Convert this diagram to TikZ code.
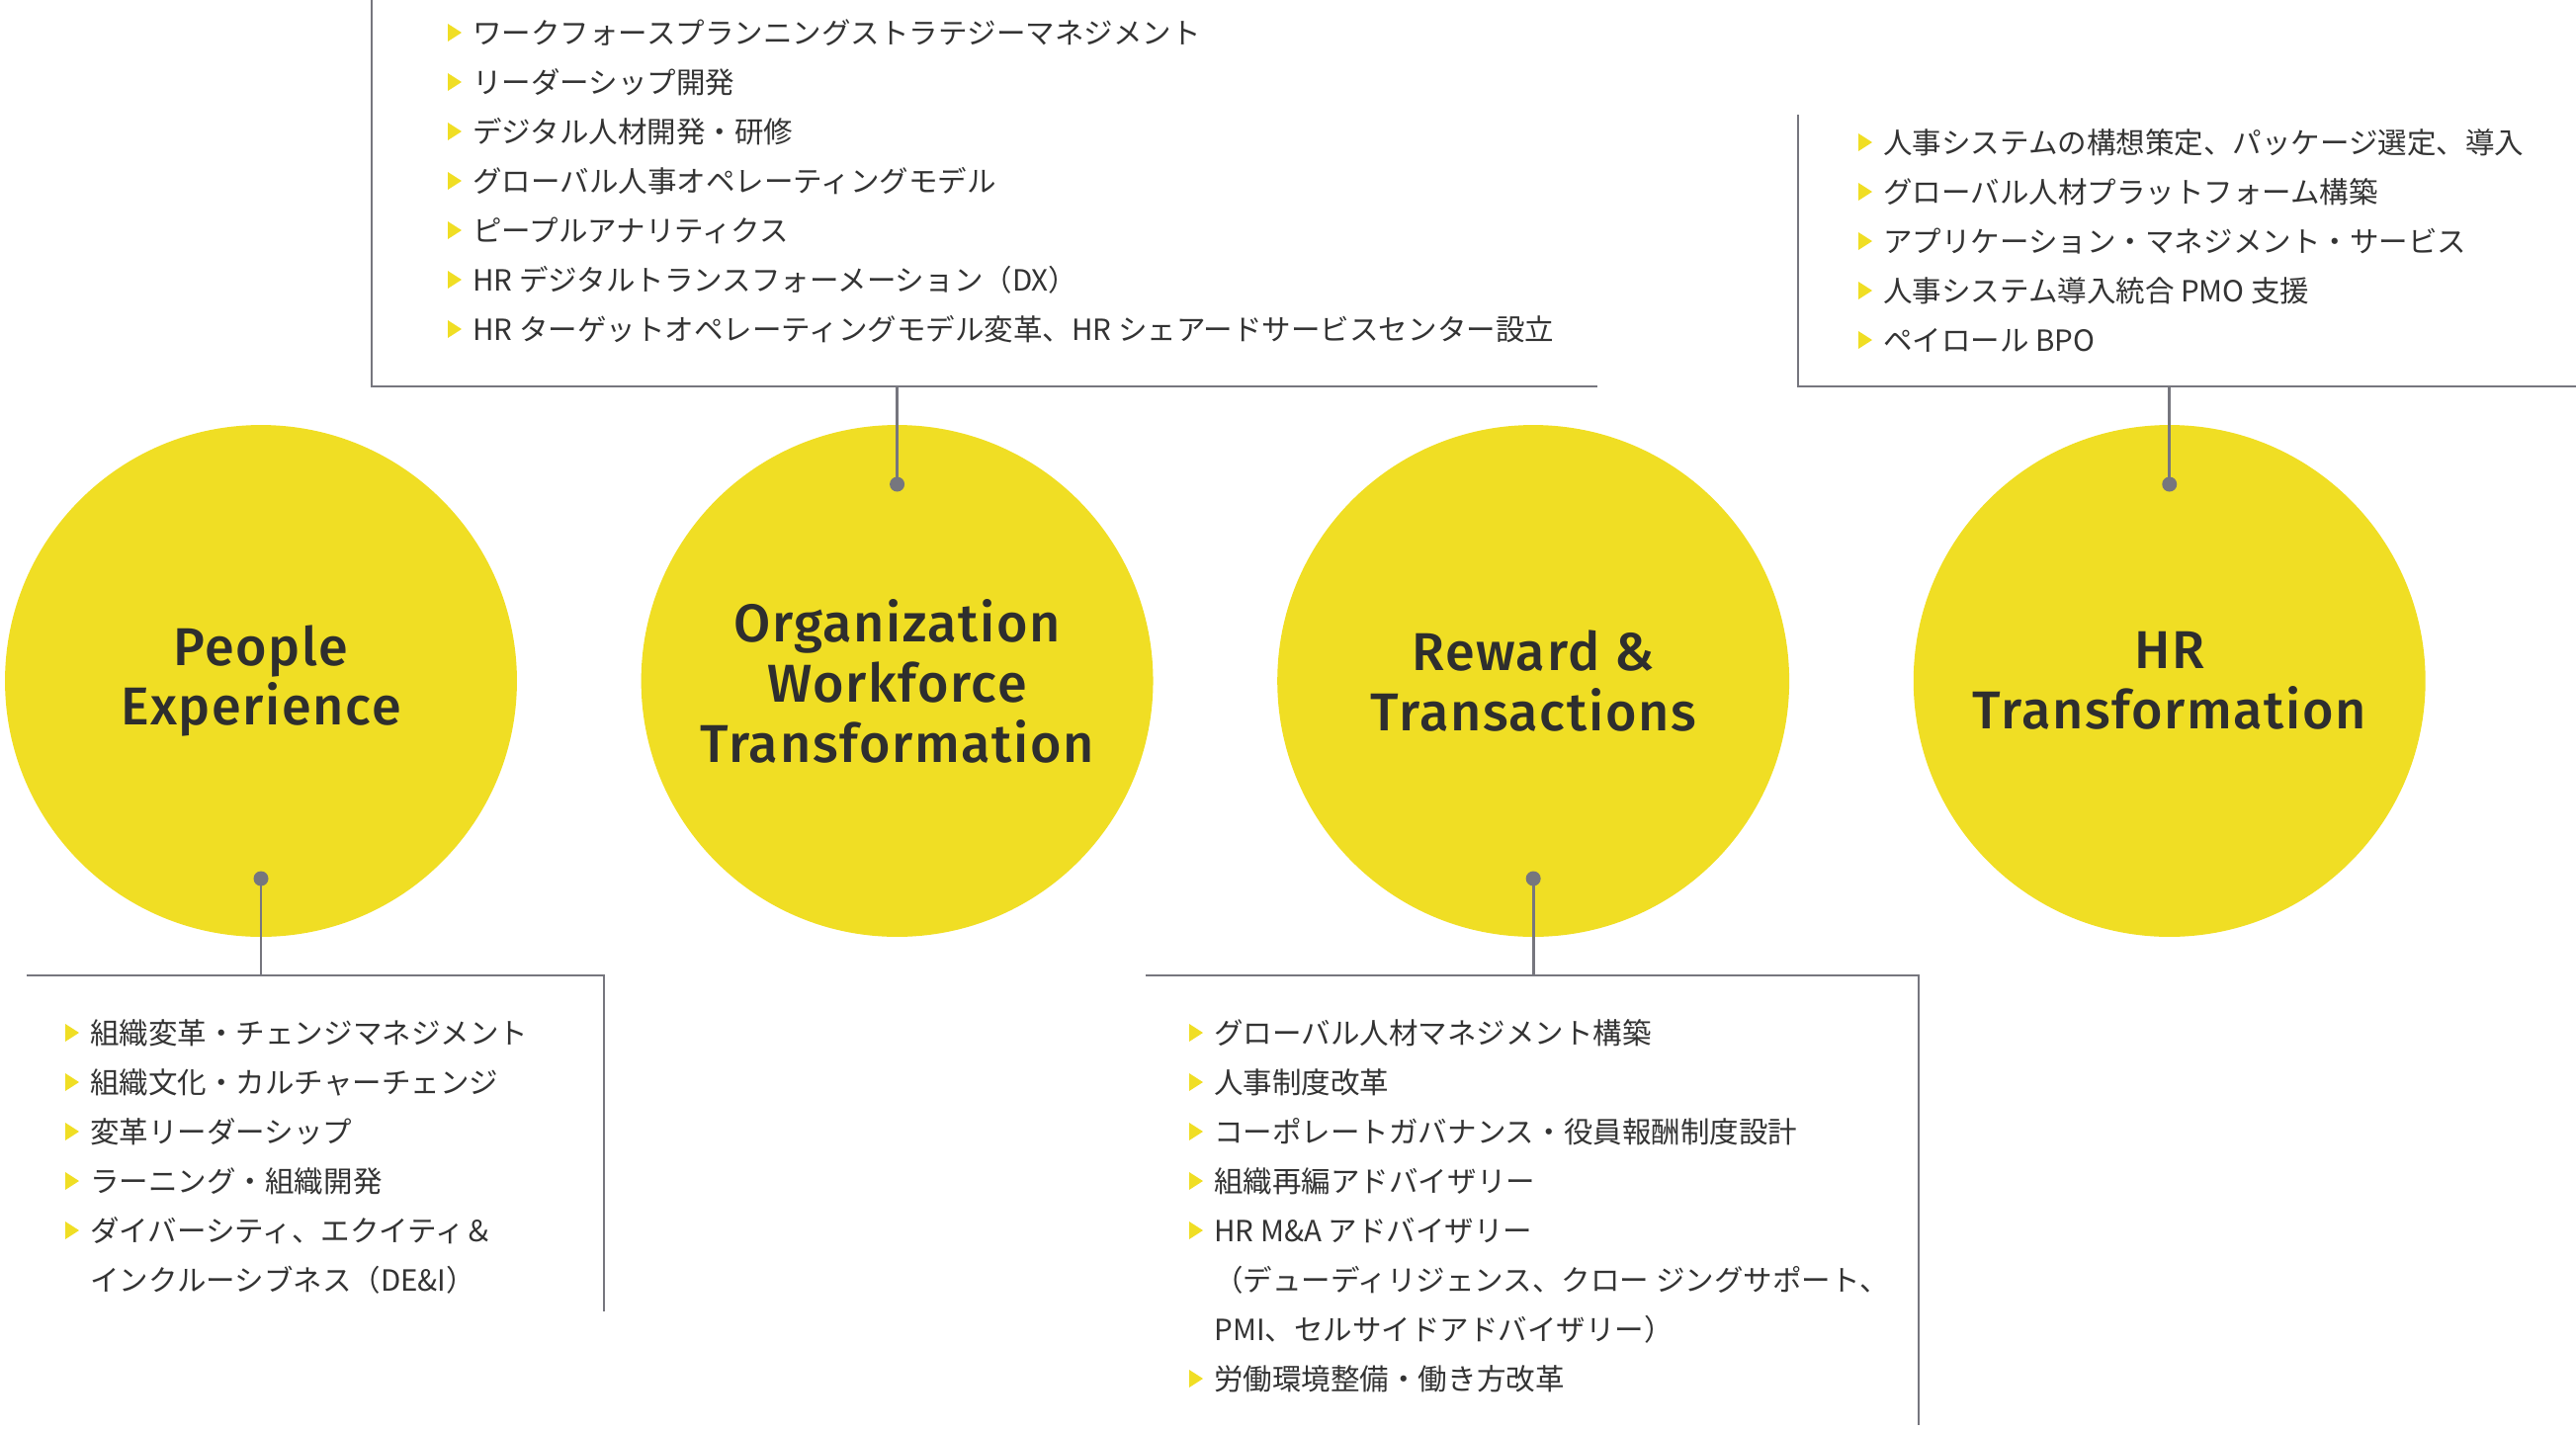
\documentclass[tikz,border=0pt]{standalone}
\usepackage{fontspec}
\setmainfont{Fira Sans}[BoldFont={Fira Sans Medium}, LetterSpace=3]
\newfontfamily\jpfont{Noto Sans CJK JP}
\usetikzlibrary{positioning,calc}

\definecolor{eyyellow}{RGB}{240,222,36}
\definecolor{linegray}{RGB}{118,118,126}
\definecolor{textgray}{RGB}{51,51,51}
\definecolor{titlegray}{RGB}{46,46,46}

\tikzset{
  topic/.style={circle, fill=eyyellow, minimum size=10.36cm, inner sep=0pt, align=center,
    text=titlegray, font=\fontsize{30.7}{34.7}\selectfont\bfseries},
  listitem/.style={anchor=west, inner sep=0pt, text=textgray,
    font=\jpfont\fontsize{16.8}{20}\selectfont, text height=14.8pt, text depth=2pt},
  bracket/.style={draw=linegray, line width=1.6pt},
  pin/.style={fill=linegray},
}

\begin{document}
\begin{tikzpicture}[x=0.02cm, y=-0.02cm]
  \useasboundingbox (0,0) rectangle (2606,1447);

  % circles
  \node (pe) [topic] at (264,689) {People\\Experience};
  \node (owt) [topic, right=2.5cm of pe] {Organization\\Workforce\\Transformation};
  \node (rt) [topic, right=2.5cm of owt] {Reward \&\\Transactions};
  \node (hrt) [topic, right=2.5cm of rt] {HR\\Transformation};

  \coordinate (pe pin) at ($(pe.center)+(0,200)$);
  \coordinate (owt pin) at ($(owt.center)+(0,-199)$);
  \coordinate (rt pin) at ($(rt.center)+(0,200)$);
  \coordinate (hrt pin) at ($(hrt.center)+(0,-199)$);

  % brackets
  \draw[bracket] (27,987) -- (611,987) -- (611,1327);
  \draw[bracket] (376,0) -- (376,391) -- (1616,391);
  \draw[bracket] (1159,987) -- (1941,987) -- (1941,1442);
  \draw[bracket] (1819,116) -- (1819,391) -- (2606,391);

  \draw[bracket] (pe pin) -- (pe pin |- 0,987);
  \draw[bracket] (owt pin) -- (owt pin |- 0,391);
  \draw[bracket] (rt pin) -- (rt pin |- 0,987);
  \draw[bracket] (hrt pin) -- (hrt pin |- 0,391);
  \foreach \p in {pe,owt,rt,hrt}
    \fill[pin] (\p\space pin) circle[radius=7.5];

  % lists
  \foreach \txt [count=\i from 0] in {ワークフォースプランニングストラテジーマネジメント, リーダーシップ開発, デジタル人材開発・研修, グローバル人事オペレーティングモデル, ピープルアナリティクス, HR デジタルトランスフォーメーション（DX）, HR ターゲットオペレーティングモデル変革、HR シェアードサービスセンター設立}
  {
    \node (owt item\i) [listitem] at (478,33+50*\i) {\txt};
    \fill[eyyellow] ($(owt item\i.west)+(-25,-9)$) -- ++(14,9) -- ++(-14,9) -- cycle;
  }

  \foreach \txt [count=\i from 0] in {人事システムの構想策定、パッケージ選定、導入, グローバル人材プラットフォーム構築, アプリケーション・マネジメント・サービス, 人事システム導入統合 PMO 支援, ペイロール BPO}
  {
    \node (hrt item\i) [listitem] at (1905,144+50*\i) {\txt};
    \fill[eyyellow] ($(hrt item\i.west)+(-25,-9)$) -- ++(14,9) -- ++(-14,9) -- cycle;
  }

  \foreach \txt/\bl [count=\i from 0] in {組織変革・チェンジマネジメント/1, 組織文化・カルチャーチェンジ/1, 変革リーダーシップ/1, ラーニング・組織開発/1, ダイバーシティ、エクイティ＆/1, インクルーシブネス（DE\&I）/0}
  {
    \node (pe item\i) [listitem] at (91,1045+50*\i) {\txt};
    \ifnum\bl=1 \fill[eyyellow] ($(pe item\i.west)+(-25,-9)$) -- ++(14,9) -- ++(-14,9) -- cycle; \fi
  }

  \foreach \txt/\bl [count=\i from 0] in {グローバル人材マネジメント構築/1, 人事制度改革/1, コーポレートガバナンス・役員報酬制度設計/1, 組織再編アドバイザリー/1, HR M\&A アドバイザリー/1, （デューディリジェンス、クロー ジングサポート、/0, PMI、セルサイドアドバイザリー）/0, 労働環境整備・働き方改革/1}
  {
    \node (rt item\i) [listitem] at (1228,1045+50*\i) {\txt};
    \ifnum\bl=1 \fill[eyyellow] ($(rt item\i.west)+(-25,-9)$) -- ++(14,9) -- ++(-14,9) -- cycle; \fi
  }
\end{tikzpicture}
\end{document}
